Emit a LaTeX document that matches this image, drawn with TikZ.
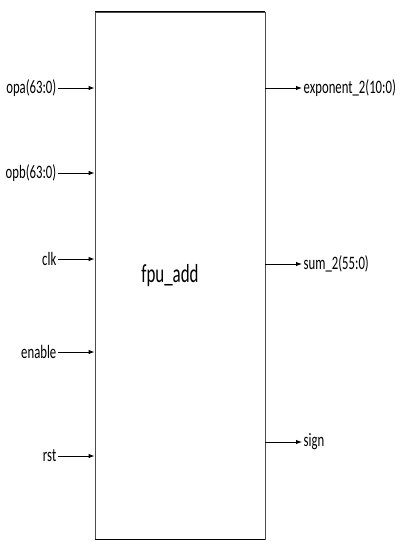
\documentclass[tikz,border=0pt]{standalone}
\usepackage{fontspec}
\setmainfont{Carlito}
\newfontfamily\portfont[FakeStretch=0.67]{Carlito}
\newfontfamily\blockfont[FakeStretch=0.65]{Carlito}
\usetikzlibrary{arrows.meta}

\begin{document}
\begin{tikzpicture}[x=1pt, y=-1pt, >={Latex[length=6pt,width=4.5pt]}]

\useasboundingbox (0,0) rectangle (415,555);

% Port label styles
\tikzset{
  inport/.style={anchor=east, inner sep=1.5pt, font=\portfont\fontsize{19}{21}\selectfont},
  outport/.style={anchor=west, inner sep=1.5pt, font=\portfont\fontsize{19}{21}\selectfont},
  wire/.style={->, line width=1pt}
}

% Block
\node[draw=black!70, line width=0.8pt, minimum width=170pt, minimum height=527pt, inner sep=0pt] (block) at (180,275.5) {};
\draw[line width=1.6pt] (block.north west) -- (block.north east);
\draw[line width=1.6pt] (block.south west) -- (block.south east);
\node[font=\blockfont\fontsize{26}{28}\selectfont] (name) at (170,276) {fpu\_add};

% Inputs
\node[inport] (opa) at (58,88) {opa(63:0)};
\node[inport] (opb) at (58,173) {opb(63:0)};
\node[inport] (clk) at (58,259) {clk};
\node[inport] (enable) at (58,352) {enable};
\node[inport] (rst) at (58,456) {rst};

\draw[wire] (opa.east) -- (opa.east -| block.west);
\draw[wire] (opb.east) -- (opb.east -| block.west);
\draw[wire] (clk.east) -- (clk.east -| block.west);
\draw[wire] (enable.east) -- (enable.east -| block.west);
\draw[wire] (rst.east) -- (rst.east -| block.west);

% Outputs
\node[outport] (exponent) at (302,88) {exponent\_2(10:0)};
\node[outport] (sum) at (302,264) {sum\_2(55:0)};
\node[outport] (sign) at (302,442) {sign};

\draw[wire] (exponent.west -| block.east) -- (exponent.west);
\draw[wire] (sum.west -| block.east) -- (sum.west);
\draw[wire] (sign.west -| block.east) -- (sign.west);

\end{tikzpicture}
\end{document}
